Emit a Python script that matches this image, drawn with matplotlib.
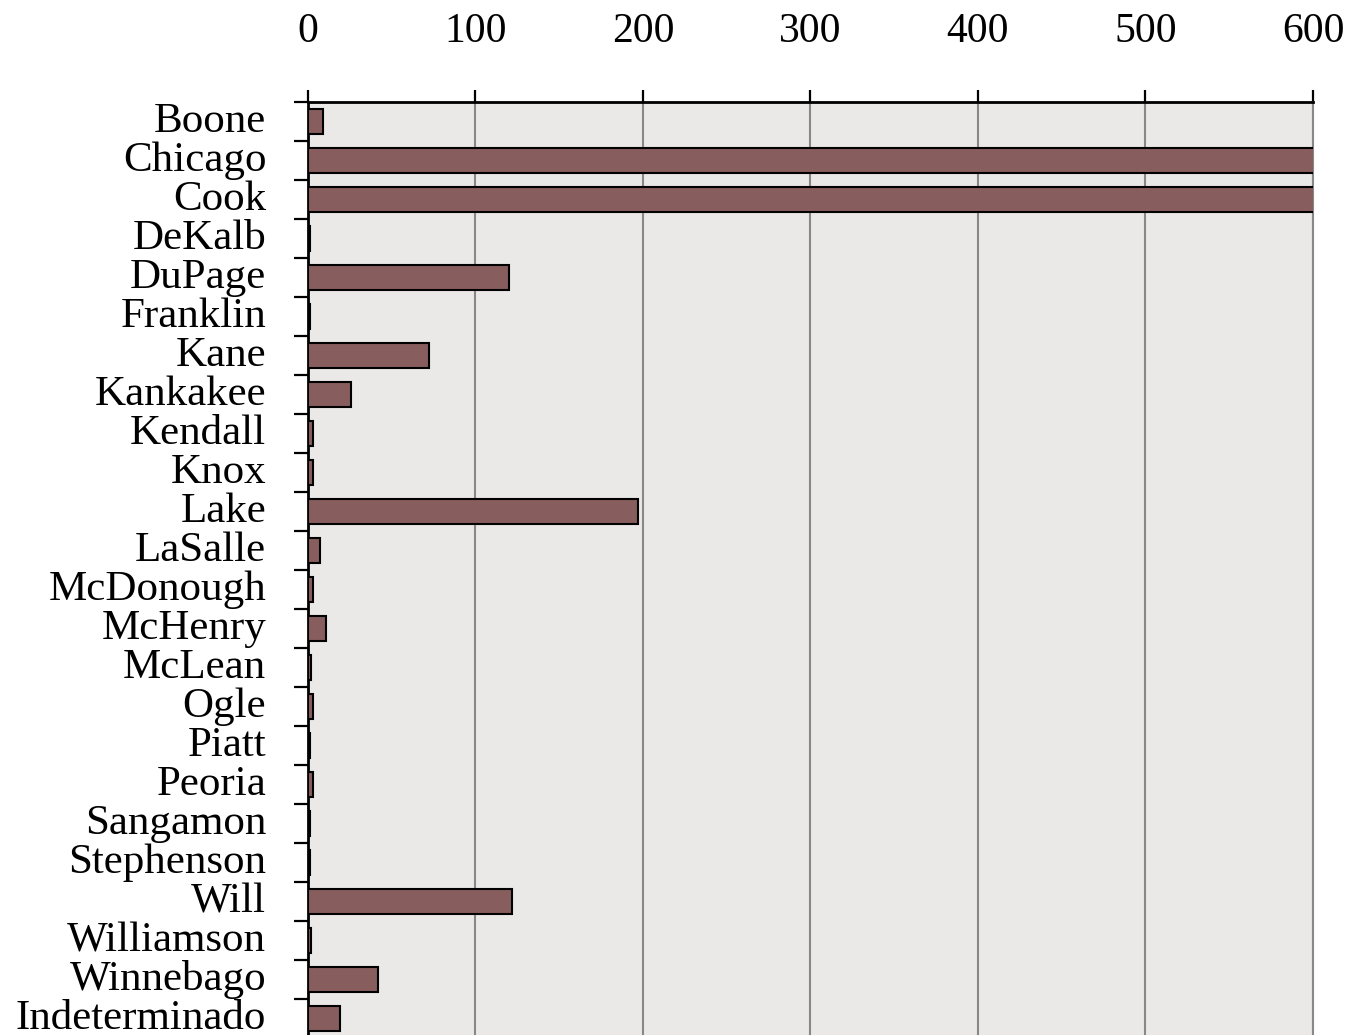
import numpy as np
import matplotlib
matplotlib.use("Agg")
import matplotlib.pyplot as plt
import matplotlib.transforms as mtransforms

# counties and counts (Chicago and Cook run past the 600 axis limit)
counties = ["Boone", "Chicago", "Cook", "DeKalb", "DuPage", "Franklin", "Kane",
            "Kankakee", "Kendall", "Knox", "Lake", "LaSalle", "McDonough",
            "McHenry", "McLean", "Ogle", "Piatt", "Peoria", "Sangamon",
            "Stephenson", "Will", "Williamson", "Winnebago", "Indeterminado"]
counts = [9, 2500, 1900, 1, 120, 1, 72, 26, 3, 3, 197, 7, 3, 11, 2, 3, 1, 3,
          1, 1, 122, 2, 42, 19]
xticks = [0, 100, 200, 300, 400, 500, 600]

plt.rcParams['font.family'] = ['Liberation Serif', 'DejaVu Serif']

fig = plt.figure(figsize=(13.5, 10.35), dpi=100)
ax = fig.add_axes([0.2281, -0.003, 0.7445, 0.9044])
ax.set_facecolor('#ebe9e7')

y = np.arange(len(counties))
ax.barh(y, counts, height=0.66, color='#875e5d', edgecolor='black',
        linewidth=1.5, zorder=3)

ax.set_xlim(0, 600)
ax.set_ylim(len(counties) - 0.5, -0.5)

ax.set_xticks(xticks)
ax.set_xticklabels([str(v) for v in xticks])
ax.xaxis.tick_top()
ax.tick_params(axis='x', length=9, width=1.6, pad=28, labelsize=30,
               color='black')
ax.grid(axis='x', color='#888888', linewidth=1.5, zorder=1)

ax.set_yticks(y)
ax.set_yticklabels(counties)
ax.set_yticks(np.arange(len(counties) + 1) - 0.5, minor=True)
ax.tick_params(axis='y', which='major', length=0, pad=30, labelsize=31)
ax.tick_params(axis='y', which='minor', length=10, width=1.6, color='black')

# nudge the county names up a little
shift = mtransforms.ScaledTranslation(0, 3 / 72, fig.dpi_scale_trans)
for lbl in ax.get_yticklabels():
    lbl.set_transform(lbl.get_transform() + shift)

for s in ['top', 'left']:
    ax.spines[s].set_color('black')
    ax.spines[s].set_linewidth(2)
ax.spines['right'].set_color('#888888')
ax.spines['right'].set_linewidth(1.5)
ax.spines['bottom'].set_visible(False)

fig.savefig("out.png", dpi=100)
